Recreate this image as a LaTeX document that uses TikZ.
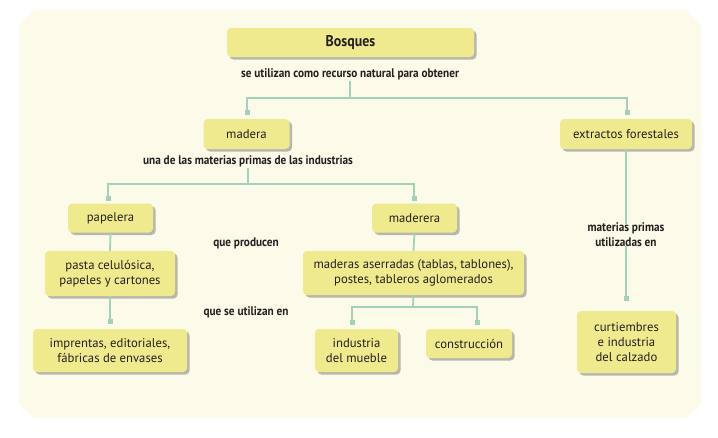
\documentclass[tikz,border=0pt]{standalone}
\usepackage{fontspec}
\setmainfont{PT Sans}
\newfontfamily\lblfont[FakeStretch=0.9]{PT Sans Bold}
\usetikzlibrary{shadows}
\definecolor{bgcream}{HTML}{FCFAE8}
\definecolor{boxyel}{HTML}{F0EA8E}
\definecolor{linegreen}{HTML}{A3D1BA}
\definecolor{txt}{HTML}{231F20}
\begin{document}
\begin{tikzpicture}[x=1pt,y=-1pt,
  box/.style={fill=boxyel, rounded corners=4pt, align=center, inner sep=0pt,
    font=\fontsize{12.7}{15}\selectfont, text=txt,
    drop shadow={shadow xshift=2.5pt, shadow yshift=-2.5pt, opacity=0.45, fill=black!60}},
  lbl/.style={font=\lblfont\fontsize{12.5}{15}\selectfont, text=txt, align=center, inner sep=1pt},
  conn/.style={draw=linegreen, line width=1.8pt},
  sqr/.style={fill=linegreen, minimum size=5pt, inner sep=0pt}]
\fill[white] (0,0) rectangle (718,437);
\useasboundingbox (0,0) rectangle (718,437);
\fill[bgcream] (34,10)--(686,10)--(701,25)--(701,403)--(686,418)--(34,418)--(19,403)--(19,25)--cycle;

% nodes
\node[box, minimum width=247pt, minimum height=29pt, font=\lblfont\fontsize{15.5}{17}\selectfont] (bosques) at (350.5,42.5) {Bosques};
\node[lbl] (l1) at (350,74) {se utilizan como recurso natural para obtener};
\node[box, minimum width=86pt, minimum height=30pt] (madera) at (246.5,134) {madera};
\node[box, minimum width=132pt, minimum height=30pt] (extractos) at (626,134) {extractos forestales};
\node[lbl] (l2) at (248,161) {una de las materias primas de las industrias};
\node[box, minimum width=85pt, minimum height=29pt] (papelera) at (110.5,218) {papelera};
\node[box, minimum width=85pt, minimum height=29pt] (maderera) at (414.5,218) {maderera};
\node[lbl] (l3) at (246,243) {que producen};
\node[box, minimum width=130pt, minimum height=45pt] (pasta) at (110,273.5) {pasta celulósica,\\papeles y cartones};
\node[box, minimum width=221pt, minimum height=44pt] (maderas) at (413.5,273) {maderas aserradas (tablas, tablones),\\postes, tableros aglomerados};
\node[lbl] (l4) at (246,312) {que se utilizan en};
\node[box, minimum width=154pt, minimum height=43pt] (imprentas) at (110,350.5) {imprentas, editoriales,\\fábricas de envases};
\node[box, minimum width=83pt, minimum height=43pt] (mueble) at (356.5,350.5) {industria\\del mueble};
\node[box, minimum width=86pt, minimum height=29pt] (constr) at (469,343.5) {construcción};
\node[lbl] (l5) at (626,235) {materias primas\\utilizadas en};
\node[box, minimum width=99pt, minimum height=62pt] (curt) at (626.5,342) {curtiembres\\e industria\\del calzado};

% squares
\node[sqr] (s1) at (247,112.5) {};
\node[sqr] (s2) at (627,112.5) {};
\node[sqr] (s3) at (108,198) {};
\node[sqr] (s4) at (414,198) {};
\node[sqr] (s5) at (110,321.5) {};
\node[sqr] (s6) at (352,322) {};
\node[sqr] (s7) at (477,322) {};
\node[sqr] (s8) at (626,298) {};

\coordinate (j1) at (350,98);
\coordinate (j2) at (248,184);
\coordinate (j3) at (413,307);

% connectors
\draw[conn] (l1.south) -- (j1);
\draw[conn] (s1.center) |- (j1) -| (s2.center);
\draw[conn] (l2.south) -- (j2);
\draw[conn] (s3.center) |- (j2) -| (s4.center);
\draw[conn] (papelera.south) -- (pasta.north);
\draw[conn] (pasta.south) -- (s5.center);
\draw[conn] (maderera.south) -- (maderas.north);
\draw[conn] (maderas.south) -- (j3);
\draw[conn] (s6.center) |- (j3) -| (s7.center);
\draw[conn] (extractos.south) -- ([yshift=-3pt]l5.north);
\draw[conn] ([yshift=2pt]l5.south) -- (s8.center);
\end{tikzpicture}
\end{document}
